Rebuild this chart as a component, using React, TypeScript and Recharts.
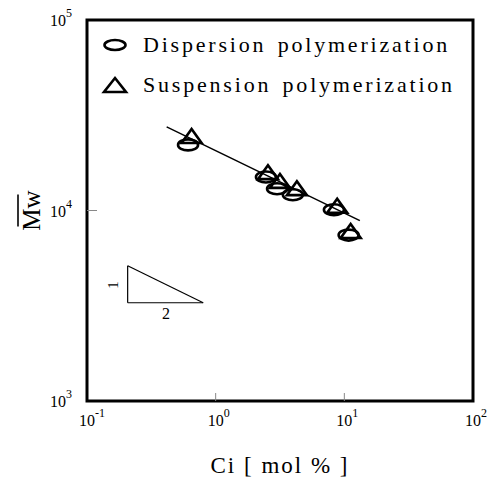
import React from 'react';
import {
  ScatterChart, Scatter, XAxis, YAxis, ReferenceArea, ReferenceLine,
} from 'recharts';

// Ci [mol %] vs Mw
const dispersionCi = [0.61, 2.46, 3.0, 3.98, 8.3, 10.8];
const dispersionMw = [22100, 15000, 13000, 12100, 10100, 7430];
const suspensionCi = [0.65, 2.55, 3.16, 4.28, 8.8, 11.2];
const suspensionMw = [24600, 15900, 14300, 13100, 10600, 7800];

// fitted line end points
const fitCi = [0.416, 13.2];
const fitMw = [27500, 8850];

// slope triangle (1 : 2)
const triCi = [0.207, 0.207, 0.8];
const triMw = [5130, 3280, 3280];

const xTicks = [0.1, 1, 10, 100];
const yTicks = [1000, 10000, 100000];

const FONT = '"Liberation Serif", "Times New Roman", serif';

const dispersion = dispersionCi.map((x, i) => ({ x, y: dispersionMw[i] }));
const suspension = suspensionCi.map((x, i) => ({ x, y: suspensionMw[i] }));
const fit = fitCi.map((x, i) => ({ x, y: fitMw[i] }));

const exp10 = (v: number) => Math.round(Math.log10(v));

const Ellipse = (props: any) => {
  const { cx, cy } = props;
  if (cx == null || cy == null) return null;
  return <ellipse cx={cx} cy={cy} rx={10} ry={5.5} fill="none" stroke="#000" strokeWidth={2.6} />;
};

const Triangle = (props: any) => {
  const { cx, cy } = props;
  if (cx == null || cy == null) return null;
  const w = 10, h = 14;
  return (
    <path
      d={`M${cx},${cy - h / 2} L${cx + w},${cy + h / 2} L${cx - w},${cy + h / 2} Z`}
      fill="none" stroke="#000" strokeWidth={2.6} strokeLinejoin="miter"
    />
  );
};

const NoShape = () => null;

const XTick = (props: any) => {
  const { x, y, payload } = props;
  const v = payload.value;
  const inner = v > 0.1 && v < 100;
  return (
    <g>
      {inner && <line x1={x} y1={y} x2={x} y2={y - 8} stroke="#888" strokeWidth={1} />}
      <text x={x - 8} y={y + 25} textAnchor="start" fontFamily={FONT} fontSize={16} fill="#000">
        10<tspan dy={-9} fontSize={12}>{exp10(v)}</tspan>
      </text>
    </g>
  );
};

const YTick = (props: any) => {
  const { x, y, payload } = props;
  const v = payload.value;
  const inner = v > 1000 && v < 100000;
  return (
    <g>
      {inner && <line x1={x} y1={y} x2={x + 10} y2={y} stroke="#888" strokeWidth={1} />}
      <text x={x - 15} y={y + 6} textAnchor="end" fontFamily={FONT} fontSize={16} fill="#000">
        10<tspan dy={-9} fontSize={12}>{exp10(v)}</tspan>
      </text>
    </g>
  );
};

const YLabel = (props: any) => {
  const { viewBox } = props;
  const cx = 31;
  const cy = viewBox.y + viewBox.height / 2;
  return (
    <g transform={`rotate(-90, ${cx}, ${cy})`}>
      <text x={cx} y={cy + 9} textAnchor="middle" fontFamily={FONT} fontSize={25} fill="#000">Mw</text>
      <line x1={cx - 16} y1={cy - 13} x2={cx + 16} y2={cy - 13} stroke="#000" strokeWidth={1.6} />
    </g>
  );
};

const LegendBox = () => (
  <div style={{
    position: 'absolute', left: 100, top: 25, fontFamily: FONT, fontSize: 22,
    letterSpacing: 2.8, wordSpacing: 3, color: '#000', lineHeight: '40px', pointerEvents: 'none',
    whiteSpace: 'nowrap',
  }}>
    <div style={{ display: 'flex', alignItems: 'center' }}>
      <svg width={43} height={20}>
        <ellipse cx={15} cy={10} rx={10.5} ry={5} fill="none" stroke="#000" strokeWidth={2.6} />
      </svg>
      <span>Dispersion polymerization</span>
    </div>
    <div style={{ display: 'flex', alignItems: 'center' }}>
      <svg width={43} height={20}>
        <path d="M15,3 L26,17 L4,17 Z" fill="none" stroke="#000" strokeWidth={2.6} />
      </svg>
      <span>Suspension polymerization</span>
    </div>
  </div>
);

export default function App() {
  return (
    <div style={{ position: 'absolute', left: 0, top: 0, width: 491, height: 479, background: '#fff' }}>
      <ScatterChart width={491} height={479} margin={{ top: 20, right: 18, bottom: 0, left: 0 }}>
        <XAxis
          dataKey="x"
          type="number"
          scale="log"
          domain={[0.1, 100]}
          ticks={xTicks}
          allowDataOverflow
          height={78}
          axisLine={false}
          tickLine={false}
          tickSize={0}
          tickMargin={0}
          tick={<XTick />}
          interval={0}
          label={{ value: 'Ci [ mol % ]', position: 'insideBottom', offset: 6, fontFamily: FONT, fontSize: 23, fill: '#000', letterSpacing: 2 }}
        />
        <YAxis
          dataKey="y"
          type="number"
          scale="log"
          domain={[1000, 100000]}
          ticks={yTicks}
          allowDataOverflow
          width={87}
          axisLine={false}
          tickLine={false}
          tickSize={0}
          tickMargin={0}
          tick={<YTick />}
          interval={0}
          label={<YLabel />}
        />
        <ReferenceArea x1={0.1} x2={100} y1={1000} y2={100000} fill="none" stroke="#000" strokeWidth={3} />
        <ReferenceLine segment={[{ x: triCi[0], y: triMw[0] }, { x: triCi[1], y: triMw[1] }]} stroke="#000" strokeWidth={1.2} />
        <ReferenceLine segment={[{ x: triCi[1], y: triMw[1] }, { x: triCi[2], y: triMw[2] }]} stroke="#000" strokeWidth={1.2} />
        <ReferenceLine segment={[{ x: triCi[0], y: triMw[0] }, { x: triCi[2], y: triMw[2] }]} stroke="#000" strokeWidth={1.2} />
        <Scatter data={fit} line={{ stroke: '#000', strokeWidth: 1.5 }} shape={<NoShape />} isAnimationActive={false} legendType="none" />
        <Scatter name="Dispersion polymerization" data={dispersion} shape={<Ellipse />} isAnimationActive={false} />
        <Scatter name="Suspension polymerization" data={suspension} shape={<Triangle />} isAnimationActive={false} />
        <text x={118} y={285} fontFamily={FONT} fontSize={15} fill="#000" transform="rotate(-90, 118, 285)" textAnchor="middle">1</text>
        <text x={166} y={319} fontFamily={FONT} fontSize={16} fill="#000" textAnchor="middle">2</text>
      </ScatterChart>
      <LegendBox />
    </div>
  );
}
